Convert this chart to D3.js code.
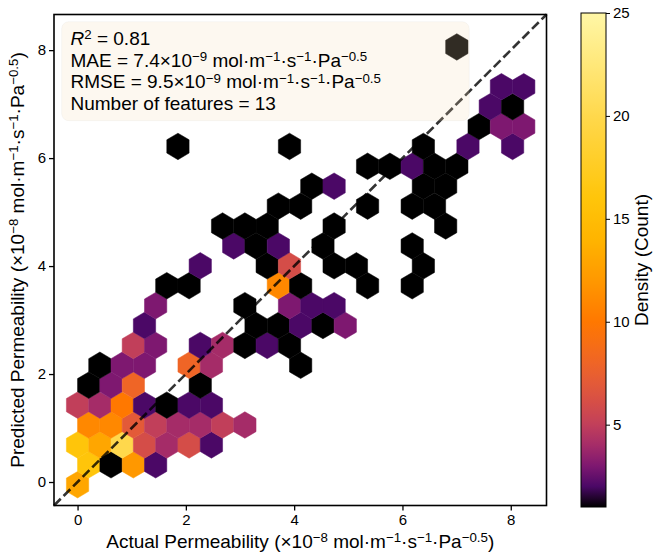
<!DOCTYPE html>
<meta charset="utf-8">
<style>
    body { margin: 0; background: #fff; }
    svg text { font-family: "Liberation Sans", Arial, sans-serif; fill: #000; white-space: pre; }
</style>
<svg id="chart" width="654" height="553"></svg>
<script src="https://cdn.jsdelivr.net/npm/d3@7/dist/d3.min.js"></script>
<script>
    // hexbin cells: centre (actual, predicted) and count
    var hexActual = [
        0.000,
        0.206, 0.618, 1.030, 1.442,
        0.000, 0.412, 0.824, 1.236, 1.648, 2.060, 2.472,
        0.206, 0.618, 1.030, 1.442, 1.854, 2.266, 2.678, 3.090,
        0.000, 0.412, 0.824, 1.236, 1.648, 2.060, 2.472,
        0.206, 0.618, 1.030, 2.266,
        0.412, 0.824, 1.236, 2.060, 2.472, 4.120,
        1.030, 1.442, 2.266, 2.678, 3.090, 3.502, 3.914,
        1.236, 3.296, 3.708, 4.120, 4.532, 4.944,
        1.442, 3.090, 3.914, 4.326, 4.738,
        1.648, 2.060, 3.708, 4.120, 5.356, 6.180,
        2.266, 3.502, 3.914, 4.738, 5.150, 6.386,
        2.884, 3.296, 3.708, 4.532, 6.180,
        2.678, 3.090, 3.502, 4.738, 6.798,
        3.708, 4.120, 5.356, 6.180, 6.592,
        4.326, 4.738, 6.386, 6.798,
        5.356, 5.768, 6.180, 6.592, 7.004,
        1.854, 3.914, 6.386, 7.210, 8.034,
        7.416, 7.828, 8.240,
        7.622, 8.034,
        7.828, 8.240,
        7.004
    ];
    var hexPredicted = [
        -0.050,
        0.319, 0.319, 0.319, 0.319,
        0.687, 0.687, 0.687, 0.687, 0.687, 0.687, 0.687,
        1.056, 1.056, 1.056, 1.056, 1.056, 1.056, 1.056, 1.056,
        1.424, 1.424, 1.424, 1.424, 1.424, 1.424, 1.424,
        1.793, 1.793, 1.793, 1.793,
        2.162, 2.162, 2.162, 2.162, 2.162, 2.162,
        2.530, 2.530, 2.530, 2.530, 2.530, 2.530, 2.530,
        2.899, 2.899, 2.899, 2.899, 2.899, 2.899,
        3.267, 3.267, 3.267, 3.267, 3.267,
        3.636, 3.636, 3.636, 3.636, 3.636, 3.636,
        4.005, 4.005, 4.005, 4.005, 4.005, 4.005,
        4.373, 4.373, 4.373, 4.373, 4.373,
        4.742, 4.742, 4.742, 4.742, 4.742,
        5.110, 5.110, 5.110, 5.110, 5.110,
        5.479, 5.479, 5.479, 5.479,
        5.848, 5.848, 5.848, 5.848, 5.848,
        6.216, 6.216, 6.216, 6.216, 6.216,
        6.585, 6.585, 6.585,
        6.953, 6.953,
        7.322, 7.322,
        8.059
    ];
    var hexCount = [
        13,
        16, 1, 12, 2,
        16, 13, 20, 6, 4, 6, 2,
        11, 11, 7, 5, 4, 4, 5, 4,
        5, 4, 10, 2, 1, 2, 2,
        1, 3, 8, 1,
        1, 3, 3, 8, 4, 1,
        5, 3, 2, 4, 1, 2, 1,
        2, 1, 1, 2, 1, 3,
        3, 1, 3, 2, 2,
        1, 1, 11, 1, 1, 1,
        2, 1, 6, 1, 1, 1,
        2, 1, 2, 1, 1,
        1, 1, 1, 1, 1,
        1, 1, 1, 1, 1,
        1, 2, 1, 1,
        1, 1, 2, 1, 1,
        1, 1, 1, 2, 2,
        1, 3, 3,
        2, 1,
        2, 2,
        1
    ];
    var hexBinWidth = 0.412,   // bin size in data units
        hexBinHeight = 0.737;

    var axisTicks = [0, 2, 4, 6, 8];
    var axisDomain = [-0.435, 8.66];
    var countTicks = [5, 10, 15, 20, 25];
    var countDomain = [1, 25];

    // colormap stops (count -> colour)
    var cmapCounts = [1, 2, 3, 4, 5, 6, 7, 8, 10, 12, 14, 16, 20, 25];
    var cmapColors = ["#000000", "#4b0866", "#7e1870", "#a52c68", "#c13f5a", "#d44d48", "#e35a38",
        "#ef6526", "#ff7800", "#ff9800", "#ffb400", "#ffc50a", "#ffd84c", "#fff7a6"];

    var unit = ["\u00a0mol·m", {s: "−1"}, "·s", {s: "−1"}, "·Pa", {s: "−0.5"}];
    var statLines = [
        [{i: "R"}, {s: "2"}, " = 0.81"],
        ["MAE = 7.4×10", {s: "−9"}].concat(unit),
        ["RMSE = 9.5×10", {s: "−9"}].concat(unit),
        ["Number of features = 13"]
    ];
    var xLabel = ["Actual Permeability (×10", {s: "−8"}].concat(unit, [")"]);
    var yLabel = ["Predicted Permeability (×10", {s: "−8"}].concat(unit, [")"]);

    function richText(sel, parts, fs) {
        var shift = 0;
        parts.forEach(function (p) {
            var t = sel.append("tspan");
            if (typeof p === "string") {
                t.attr("dy", -shift).text(p);
                shift = 0;
            } else if (p.s) {
                var up = fs * 0.3;
                t.attr("dy", -up - shift).attr("font-size", fs * 0.7).text(p.s);
                shift = -up;
            } else if (p.i) {
                t.attr("dy", -shift).attr("font-style", "italic").text(p.i);
                shift = 0;
            }
        });
    }

    function drawChart() {
        var svg = d3.select("#chart");
        var left = 54, top = 14.5, width = 492.5, height = 491;

        var x = d3.scaleLinear().domain(axisDomain).range([left, left + width]);
        var y = d3.scaleLinear().domain(axisDomain).range([top + height, top]);
        var color = d3.scaleLinear().domain(cmapCounts).range(cmapColors).clamp(true);

        svg.append("defs").append("clipPath").attr("id", "plot-clip")
            .append("rect").attr("x", left).attr("y", top).attr("width", width).attr("height", height);

        var hw = hexBinWidth / 2, hh = hexBinHeight / 6, ht = hexBinHeight / 3;
        var corners = [[hw, -hh], [hw, hh], [0, ht], [-hw, hh], [-hw, -hh], [0, -ht]];

        var cells = hexCount.map(function (c, i) {
            return { x: hexActual[i], y: hexPredicted[i], count: c };
        });

        svg.append("g").attr("clip-path", "url(#plot-clip)")
            .selectAll("path")
            .data(cells)
            .enter().append("path")
            .attr("d", function (d) {
                return "M" + corners.map(function (k) {
                    return x(d.x + k[0]) + "," + y(d.y + k[1]);
                }).join("L") + "Z";
            })
            .attr("fill", function (d) { return color(d.count); })
            .attr("stroke", function (d) { return color(d.count); })
            .attr("stroke-width", 0.5);

        // y = x reference line
        svg.append("line")
            .attr("x1", x(axisDomain[0])).attr("y1", y(axisDomain[0]))
            .attr("x2", x(axisDomain[1])).attr("y2", y(axisDomain[1]))
            .attr("stroke", "#000").attr("stroke-opacity", 0.8)
            .attr("stroke-width", 2.6).attr("stroke-dasharray", "9.5,4");

        // stats box
        svg.append("rect")
            .attr("x", 61.7).attr("y", 21.7).attr("width", 407.5).attr("height", 99)
            .attr("rx", 7)
            .attr("fill", "wheat").attr("fill-opacity", 0.2)
            .attr("stroke", "#000").attr("stroke-opacity", 0.03);

        statLines.forEach(function (line, i) {
            var t = svg.append("text")
                .attr("x", 70.5).attr("y", 45 + i * 21.7)
                .attr("font-size", 19);
            richText(t, line, 19);
        });

        // axes
        var xAxis = svg.append("g")
            .attr("transform", "translate(0," + (top + height) + ")")
            .call(d3.axisBottom(x).tickValues(axisTicks).tickSize(5).tickPadding(4).tickFormat(d3.format("d")));
        var yAxis = svg.append("g")
            .attr("transform", "translate(" + left + ",0)")
            .call(d3.axisLeft(y).tickValues(axisTicks).tickSize(5).tickPadding(3).tickFormat(d3.format("d")));
        [xAxis, yAxis].forEach(function (a) {
            a.select(".domain").remove();
            a.selectAll(".tick line").attr("stroke", "#000").attr("stroke-width", 1.3);
            a.selectAll(".tick text").attr("font-size", 15).attr("font-family", "Liberation Sans, Arial, sans-serif");
        });

        svg.append("rect")
            .attr("x", left).attr("y", top).attr("width", width).attr("height", height)
            .attr("fill", "none").attr("stroke", "#000").attr("stroke-width", 1.6);

        var xl = svg.append("text")
            .attr("x", left + width / 2).attr("y", 548)
            .attr("text-anchor", "middle").attr("font-size", 19);
        richText(xl, xLabel, 19);

        var yl = svg.append("text")
            .attr("transform", "translate(24," + (top + height / 2) + ") rotate(-90)")
            .attr("text-anchor", "middle").attr("font-size", 19);
        richText(yl, yLabel, 19);

        // colour bar
        var cbLeft = 581, cbWidth = 25, cbTop = 13, cbBottom = 507;
        var cy = d3.scaleLinear().domain(countDomain).range([cbBottom, cbTop]);

        var grad = svg.select("defs").append("linearGradient")
            .attr("id", "cbar-grad")
            .attr("x1", 0).attr("y1", 1).attr("x2", 0).attr("y2", 0);
        grad.selectAll("stop")
            .data(d3.range(countDomain[0], countDomain[1] + 0.001, 0.25))
            .enter().append("stop")
            .attr("offset", function (d) { return (d - countDomain[0]) / (countDomain[1] - countDomain[0]); })
            .attr("stop-color", function (d) { return color(d); });

        svg.append("rect")
            .attr("x", cbLeft).attr("y", cbTop).attr("width", cbWidth).attr("height", cbBottom - cbTop)
            .attr("fill", "url(#cbar-grad)")
            .attr("stroke", "#000").attr("stroke-width", 1);

        var cAxis = svg.append("g")
            .attr("transform", "translate(" + (cbLeft + cbWidth) + ",0)")
            .call(d3.axisRight(cy).tickValues(countTicks).tickSize(4).tickPadding(3));
        cAxis.select(".domain").remove();
        cAxis.selectAll(".tick line").attr("stroke", "#000").attr("stroke-width", 1);
        cAxis.selectAll(".tick text").attr("font-size", 15).attr("font-family", "Liberation Sans, Arial, sans-serif");

        svg.append("text")
            .attr("transform", "translate(648," + ((cbTop + cbBottom) / 2) + ") rotate(-90)")
            .attr("text-anchor", "middle").attr("font-size", 19)
            .text("Density (Count)");
    }

    drawChart();
</script>
